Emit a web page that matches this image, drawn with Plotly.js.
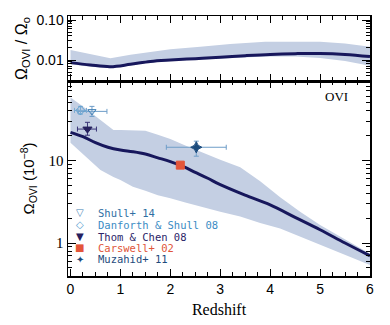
<!DOCTYPE html>
<html><head><meta charset="utf-8">
<script src="https://cdn.plot.ly/plotly-3.0.1.min.js"></script>
<style>html,body{margin:0;padding:0;background:#fff}</style>
</head><body><div id="chart" style="width:390px;height:325px"></div>
<script>
// ---- Bottom panel: Omega_OVI (1e-8) ----
const zLine = [0, 0.25, 0.5, 0.75, 1.0, 1.25, 1.5, 1.75, 2.0, 2.25, 2.5, 2.75, 3.0, 3.5, 4.0, 4.5, 5.0, 5.5, 6.0];
const omegaLine = [22, 19.5, 16.5, 14.5, 13.4, 12.8, 12.0, 10.8, 9.7, 8.5, 7.2, 6.1, 5.1, 3.8, 2.9, 2.05, 1.45, 1.0, 0.70];
const zBand = [0, 0.3, 0.6, 0.86, 1.0, 1.25, 1.5, 1.75, 2.0, 2.3, 2.6, 3.0, 3.4, 3.8, 4.2, 4.6, 5.0, 5.5, 6.0];
const omegaUpper = [58, 43, 31, 23.4, 23.4, 23.4, 23.0, 20.5, 18.3, 15.2, 12.8, 10.2, 8.3, 5.6, 3.6, 2.4, 1.65, 1.1, 0.74];
const omegaLower = [16.5, 11.4, 7.7, 6.3, 5.8, 4.8, 4.3, 3.8, 3.5, 3.1, 2.75, 2.4, 2.1, 1.75, 1.5, 1.2, 0.95, 0.72, 0.54];

// ---- Top panel: Omega_OVI / Omega_O ----
const zRatio = [0, 0.4, 0.8, 1.2, 1.6, 2.0, 2.5, 3.0, 3.5, 4.0, 4.5, 5.0, 5.5, 6.0];
const ratioLine = [0.0086, 0.0075, 0.0068, 0.0078, 0.0092, 0.0100, 0.0108, 0.0117, 0.0128, 0.0138, 0.0144, 0.0146, 0.0138, 0.0122];
const zRatioBand = [0, 0.4, 0.8, 1.2, 1.6, 2.0, 2.6, 3.2, 3.9, 4.5, 5.0, 5.5, 6.0];
const ratioUpper = [0.0178, 0.0141, 0.0110, 0.0135, 0.0160, 0.0185, 0.0215, 0.0250, 0.0285, 0.0290, 0.0285, 0.0260, 0.0215];
const ratioLower = [0.0078, 0.0068, 0.0062, 0.0072, 0.0086, 0.0095, 0.0103, 0.0112, 0.0122, 0.0122, 0.0112, 0.0095, 0.0072];

// ---- Observations ----
const obsNames = ["Shull+ 14", "Danforth & Shull 08", "Thom & Chen 08", "Carswell+ 02", "Muzahid+ 11"];
const obsZ = [0.43, 0.20, 0.34, 2.20, 2.52];
const obsOmega = [39.5, 40.6, 24.1, 8.8, 14.5];
const obsZErrMinus = [0.28, 0.12, 0.20, 0, 0.60];
const obsZErrPlus = [0.30, 0.12, 0.18, 0, 0.60];
const obsErrMinus = [5.2, 4.0, 3.8, 0, 3.2];
const obsErrPlus = [5.9, 4.8, 5.0, 0, 2.7];

const yTickVals = [1, 10];
const yTickText = ["1", "10"];
const yMinor = [0.5, 0.6, 0.7, 0.8, 0.9, 2, 3, 4, 5, 6, 7, 8, 9, 20, 30, 40, 50, 60, 70, 80, 90];
const y2TickVals = [0.01, 0.1];
const y2TickText = ["0.01", "0.10"];
const y2Minor = [0.003, 0.004, 0.005, 0.006, 0.007, 0.008, 0.009, 0.02, 0.03, 0.04, 0.05, 0.06, 0.07, 0.08, 0.09];
const xTickVals = [0, 1, 2, 3, 4, 5, 6];

const styles = [
  {symbol: "triangle-down-open", color: "#3f7fb5", err: "#6e9dc8", text: "#2f6fa3", glyph: "\u25BD", size: 7},
  {symbol: "diamond-open", color: "#5aa0d0", err: "#7aaad2", text: "#3b8cc4", glyph: "\u25C7", size: 7},
  {symbol: "triangle-down", color: "#26205e", err: "#3a3578", text: "#2c2468", glyph: "\u25BC", size: 8},
  {symbol: "square", color: "#e4553a", err: "#e4553a", text: "#e0553a", glyph: "\u25A0", size: 8},
  {symbol: "star-diamond", color: "#1a4a7c", err: "#6e9dc8", text: "#1d4a7c", glyph: "\u2726", size: 8}
];

const bandColor = "rgb(196,207,227)";
const lineColor = "#17175c";

const traces = [];
traces.push({
  x: zBand.concat(zBand.slice().reverse()),
  y: omegaUpper.concat(omegaLower.slice().reverse()),
  xaxis: "x", yaxis: "y", mode: "lines", fill: "toself",
  fillcolor: bandColor, line: {width: 0, color: bandColor}, hoverinfo: "skip", showlegend: false
});
traces.push({x: zLine, y: omegaLine, xaxis: "x", yaxis: "y", mode: "lines",
  line: {color: lineColor, width: 3, shape: "spline"}, showlegend: false});
traces.push({
  x: zRatioBand.concat(zRatioBand.slice().reverse()),
  y: ratioUpper.concat(ratioLower.slice().reverse()),
  xaxis: "x2", yaxis: "y2", mode: "lines", fill: "toself",
  fillcolor: bandColor, line: {width: 0, color: bandColor}, hoverinfo: "skip", showlegend: false
});
traces.push({x: zRatio, y: ratioLine, xaxis: "x2", yaxis: "y2", mode: "lines",
  line: {color: lineColor, width: 3, shape: "spline"}, showlegend: false});

for (let i = 0; i < obsNames.length; i++) {
  const s = styles[i];
  traces.push({
    x: [obsZ[i]], y: [obsOmega[i]], xaxis: "x", yaxis: "y", mode: "markers", name: obsNames[i],
    marker: {symbol: s.symbol, color: s.color, size: s.size, line: {color: s.color, width: 1}},
    error_x: {type: "data", array: [obsZErrPlus[i]], arrayminus: [obsZErrMinus[i]], visible: obsZErrPlus[i] > 0,
      color: s.err, thickness: 1, width: 2.5},
    error_y: {type: "data", array: [obsErrPlus[i]], arrayminus: [obsErrMinus[i]], visible: obsErrPlus[i] > 0,
      color: s.err, thickness: 1, width: 2.5},
    showlegend: false
  });
}

const annotations = [];
const legY = [0.2435, 0.1973, 0.151, 0.1077, 0.0635];
for (let i = 0; i < obsNames.length; i++) {
  annotations.push({xref: "paper", yref: "paper", x: 0.0397, y: legY[i], xanchor: "center", yanchor: "middle",
    text: styles[i].glyph, showarrow: false,
    font: {family: "DejaVu Sans", size: 10, color: styles[i].color}});
  annotations.push({xref: "paper", yref: "paper", x: 0.092, y: legY[i], xanchor: "left", yanchor: "middle",
    text: obsNames[i], showarrow: false,
    font: {family: "DejaVu Sans Mono", size: 10.5, color: styles[i].text}});
}
annotations.push({xref: "paper", yref: "paper", x: 0.89, y: 0.692, xanchor: "center", yanchor: "middle",
  text: "OVI", showarrow: false, font: {family: "Liberation Serif", size: 13, color: "#000"}});

const axCommon = {
  showline: true, linecolor: "#000", linewidth: 1.5, mirror: "allticks",
  ticks: "inside", tickcolor: "#000", tickwidth: 1, showgrid: false, zeroline: false
};

const layout = {
  width: 390, height: 325,
  margin: {l: 68, r: 20, t: 16, b: 49},
  paper_bgcolor: "#fff", plot_bgcolor: "#fff",
  showlegend: false,
  xaxis: Object.assign({}, axCommon, {
    domain: [0, 1], anchor: "y", range: [-0.05, 6], tickmode: "array", tickvals: xTickVals, ticklen: 7,
    minor: {ticks: "inside", ticklen: 4, dtick: 0.25, tick0: 0, tickcolor: "#000"},
    tickfont: {family: "Liberation Sans", size: 14, color: "#000"},
    title: {text: "Redshift", font: {family: "Liberation Serif", size: 16, color: "#000"}, standoff: 7}
  }),
  xaxis2: Object.assign({}, axCommon, {
    domain: [0, 1], anchor: "y2", matches: "x", range: [-0.05, 6], tickmode: "array", tickvals: xTickVals, ticklen: 7,
    minor: {ticks: "inside", ticklen: 4, dtick: 0.25, tick0: 0, tickcolor: "#000"},
    showticklabels: false
  }),
  yaxis: Object.assign({}, axCommon, {
    domain: [0, 0.75], anchor: "x", type: "log", range: [-0.4, 1.965],
    tickmode: "array", tickvals: yTickVals, ticktext: yTickText, ticklen: 8,
    minor: {ticks: "inside", ticklen: 4, tickmode: "array", tickvals: yMinor, tickcolor: "#000"},
    tickfont: {family: "Liberation Serif", size: 15, color: "#000"},
    title: {text: "\u03A9<sub>OVI</sub> (10<sup>\u22128</sup>)", font: {family: "Liberation Sans", size: 15, color: "#000"}, standoff: 10}
  }),
  yaxis2: Object.assign({}, axCommon, {
    domain: [0.75, 1], anchor: "x2", type: "log", range: [-2.525, -0.9],
    tickmode: "array", tickvals: y2TickVals, ticktext: y2TickText, ticklen: 8,
    minor: {ticks: "inside", ticklen: 4, tickmode: "array", tickvals: y2Minor, tickcolor: "#000"},
    tickfont: {family: "Liberation Sans", size: 14, color: "#000"},
    title: {text: "\u03A9<sub>OVI</sub> / \u03A9<sub>o</sub>", font: {family: "Liberation Sans", size: 16, color: "#000"}, standoff: 5}
  }),
  annotations: annotations
};

Plotly.newPlot("chart", traces, layout, {displayModeBar: false, staticPlot: true});
</script>
</body></html>
